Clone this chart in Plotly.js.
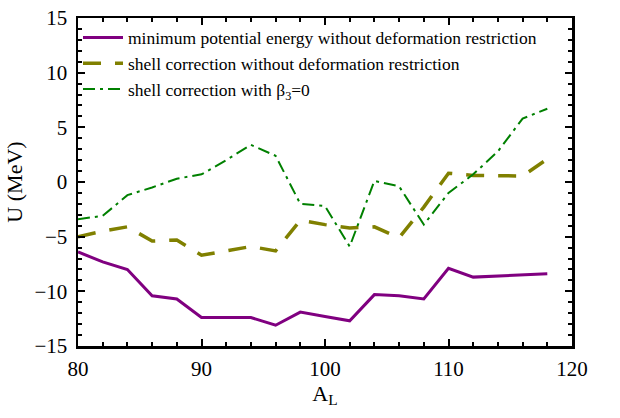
<!DOCTYPE html>
<html>
<head>
<meta charset="utf-8">
<script src="https://cdn.plot.ly/plotly-3.0.1.min.js"></script>
<style>html,body{margin:0;padding:0;background:#fff}#chart{width:620px;height:418px}</style>
</head>
<body>
<div id="chart"></div>
<script>
const AL = [80,82,84,86,88,90,92,94,96,98,100,102,104,106,108,110,112,114,116,118];
const minPotential = [-6.4,-7.3,-8.0,-10.4,-10.7,-12.4,-12.4,-12.4,-13.1,-11.9,-12.3,-12.7,-10.3,-10.4,-10.7,-7.9,-8.7,-8.6,-8.45,-8.4];
const shellNoRestr = [-5.0,-4.5,-4.1,-5.4,-5.3,-6.7,-6.3,-5.9,-6.3,-3.5,-3.9,-4.2,-4.1,-5.1,-2.3,0.8,0.6,0.6,0.55,2.1];
const shellBeta3 = [-3.4,-3.1,-1.2,-0.5,0.3,0.7,2.0,3.4,2.4,-2.0,-2.2,-5.9,0.1,-0.4,-3.9,-1.0,0.7,2.8,5.8,6.7];
const names = ['minimum potential energy without deformation restriction','shell correction without deformation restriction','shell correction with β<sub>3</sub>=0'];

const font = 'Liberation Serif, serif';
const traces = [
  {x: AL, y: minPotential, name: names[0], mode: 'lines', line: {color: '#800080', width: 3}},
  {x: AL, y: shellNoRestr, name: names[1], mode: 'lines', line: {color: '#808000', width: 3.5, dash: '18px,14px'}},
  {x: AL, y: shellBeta3, name: names[2], mode: 'lines', line: {color: '#008000', width: 2, dash: '12px,5px,3px,5px'}}
];
const axisCommon = {
  showgrid: false, zeroline: false, showline: true, linecolor: '#000', linewidth: 2.5,
  mirror: 'ticks', ticks: 'inside', ticklen: 7, tickwidth: 2, tickcolor: '#000',
  tickfont: {family: font, size: 21, color: '#000'}
};
const layout = {
  width: 620, height: 418,
  margin: {l: 78, r: 48, t: 18, b: 72},
  paper_bgcolor: '#fff', plot_bgcolor: '#fff',
  showlegend: true,
  legend: {x: 0.0, y: 0.995, xanchor: 'left', yanchor: 'top', bgcolor: 'rgba(0,0,0,0)',
           font: {family: font, size: 17.5, color: '#000'}, tracegroupgap: 0, itemwidth: 40},
  xaxis: Object.assign({}, axisCommon, {
    range: [80, 120], tickmode: 'linear', tick0: 80, dtick: 10, ticklabelstandoff: 2,
    minor: {ticks: 'inside', ticklen: 4, tickwidth: 2, dtick: 2, tickcolor: '#000'},
    title: {text: 'A<sub>L</sub>', font: {family: font, size: 22, color: '#000'}, standoff: 6}
  }),
  yaxis: Object.assign({}, axisCommon, {
    range: [-15, 15], tickmode: 'linear', tick0: -15, dtick: 5, ticklabelstandoff: 4,
    minor: {ticks: 'inside', ticklen: 4, tickwidth: 2, dtick: 1, tickcolor: '#000'},
    title: {text: 'U (MeV)', font: {family: font, size: 22, color: '#000'}, standoff: 6}
  })
};
Plotly.newPlot('chart', traces, layout, {displayModeBar: false, staticPlot: true});
</script>
</body>
</html>
